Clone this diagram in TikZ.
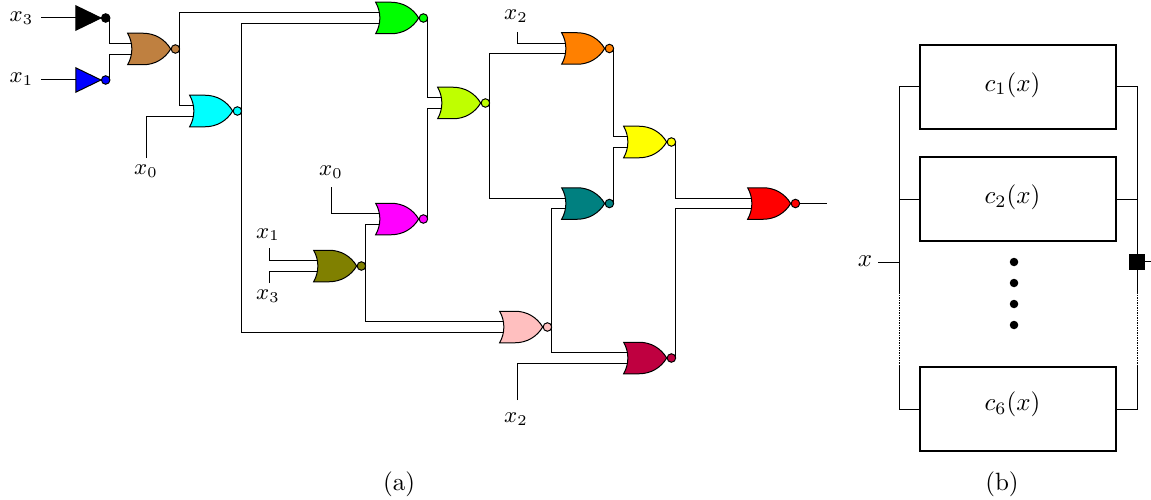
\documentclass[tikz,border=0pt]{standalone}
\usetikzlibrary{shapes.gates.logic.US}
\definecolor{cbrown}{rgb}{.75,.5,.25}
\definecolor{clime}{rgb}{.75,1,0}
\definecolor{cpink}{rgb}{1,.75,.75}
\definecolor{cpurple}{rgb}{.75,0,.25}
\definecolor{corange}{rgb}{1,.5,0}
\definecolor{cteal}{rgb}{0,.5,.5}
\definecolor{colive}{rgb}{.5,.5,0}
\definecolor{ccyan}{rgb}{0,1,1}
\definecolor{cmag}{rgb}{1,0,1}
\definecolor{cyel}{rgb}{1,1,0}
\definecolor{cgreen}{rgb}{0,1,0}
\definecolor{cred}{rgb}{1,0,0}
\definecolor{cblue}{rgb}{0,0,1}
\tikzset{
  norg/.style={nor gate US,draw,fill=#1,logic gate inputs=nn,inner sep=0pt,minimum height=9.6pt,minimum width=15.2pt,logic gate input sep=4.2pt,logic gate inverted radius=1.7pt,outer sep=0pt},
  notg/.style={not gate US,draw,fill=#1,inner sep=0pt,minimum height=7.6pt,minimum width=11pt,logic gate inverted radius=1.7pt,outer sep=0pt},
  wire/.style={line width=0.4pt},
  lbl/.style={inner sep=0pt},
  slbl/.style={inner sep=0pt,font=\small},
  cbox/.style={draw,line width=0.8pt,minimum width=78.4pt,minimum height=33.4pt,inner sep=0pt},
  blob/.style={circle,fill=black,inner sep=0pt,minimum size=3.4pt}
}
\begin{document}
\begin{tikzpicture}[x=0.4pt,y=-0.4pt]
\useasboundingbox (0,0) rectangle (1151,499);
% gates
\node[notg=black] (nblack) at (84.5,18) {};
\node[notg=cblue] (nblue) at (84.5,80) {};
\node[norg=cbrown] (gbrown) at (146,49) {};
\node[norg=ccyan] (gcyan) at (208,111) {};
\node[norg=cgreen] (ggreen) at (394,18) {};
\node[norg=clime] (glime) at (456,103) {};
\node[norg=cmag] (gmag) at (394,219) {};
\node[norg=colive] (golive) at (332,266) {};
\node[norg=cpink] (gpink) at (518,327) {};
\node[norg=corange] (gorange) at (580,48.5) {};
\node[norg=cteal] (gteal) at (580,203.5) {};
\node[norg=cyel] (gyellow) at (642,142) {};
\node[norg=cpurple] (gpurple) at (642,358) {};
\node[norg=cred] (gred) at (766,203.5) {};
% labels
\node[slbl] (lx3) at (21.5,18) {$x_3$};
\node[slbl] (lx1) at (21.5,79) {$x_1$};
\node[slbl] (lx0a) at (146,171) {$x_0$};
\node[slbl] (lx0b) at (331,172) {$x_0$};
\node[slbl] (lx1b) at (268,234.5) {$x_1$};
\node[slbl] (lx3b) at (268,296) {$x_3$};
\node[slbl] (lx2a) at (516,16) {$x_2$};
\node[slbl] (lx2b) at (516,419) {$x_2$};
\node[lbl] (la) at (399,484) {(a)};
\node[lbl] (lb) at (1002,484) {(b)};
% free ends
\coordinate (e3) at (41,18);
\coordinate (e1) at (41,80);
\coordinate (e0a) at (146,158);
\coordinate (e0b) at (331,187);
\coordinate (e1b) at (269,248);
\coordinate (e3b) at (269,283);
\coordinate (e2a) at (517,32);
\coordinate (e2b) at (517,400);
\coordinate (eout) at (827,203.5);
% wires
\draw[wire] (e3) -- (nblack.input);
\draw[wire] (e1) -- (nblue.input);
\draw[wire] (nblack.output) |- (gbrown.input 1);
\draw[wire] (nblue.output) |- (gbrown.input 2);
\draw[wire] (gbrown.output) |- (ggreen.input 1);
\draw[wire] (gbrown.output) |- (gcyan.input 1);
\draw[wire] (e0a) |- (gcyan.input 2);
\draw[wire] (gcyan.output) |- (ggreen.input 2);
\draw[wire] (gcyan.output) |- (gpink.input 2);
\draw[wire] (ggreen.output) |- (glime.input 1);
\draw[wire] (gmag.output) |- (glime.input 2);
\draw[wire] (glime.output) |- (gorange.input 2);
\draw[wire] (glime.output) |- (gteal.input 1);
\draw[wire] (e0b) |- (gmag.input 1);
\draw[wire] (golive.output) |- (gmag.input 2);
\draw[wire] (golive.output) |- (gpink.input 1);
\draw[wire] (e1b) |- (golive.input 1);
\draw[wire] (e3b) |- (golive.input 2);
\draw[wire] (gpink.output) |- (gteal.input 2);
\draw[wire] (gpink.output) |- (gpurple.input 1);
\draw[wire] (e2b) |- (gpurple.input 2);
\draw[wire] (e2a) |- (gorange.input 1);
\draw[wire] (gorange.output) |- (gyellow.input 1);
\draw[wire] (gteal.output) |- (gyellow.input 2);
\draw[wire] (gyellow.output) |- (gred.input 1);
\draw[wire] (gpurple.output) |- (gred.input 2);
\draw[wire] (gred.output) -- (eout);
% panel b
\node[cbox] (c1) at (1018,87) {};
\node[cbox] (c2) at (1018,199) {};
\node[cbox] (c6) at (1018,409) {};
\node[lbl] (tc1) at (1012.5,85) {$c_1(x)$};
\node[lbl] (tc2) at (1012.5,197) {$c_2(x)$};
\node[lbl] (tc6) at (1012.5,404) {$c_6(x)$};
\node[blob] (d1) at (1014,262) {};
\node[blob] (d2) at (1014,283) {};
\node[blob] (d3) at (1014,304) {};
\node[blob] (d4) at (1014,325) {};
\node[lbl] (lx) at (865,261) {$x$};
\node[draw,fill=black,inner sep=0pt,minimum size=6pt] (sq) at (1137,261.5) {};
\coordinate (xs) at (878,262);
\coordinate (xj) at (899,262);
\coordinate (ltop) at (899,87);
\coordinate (ld1) at (899,292);
\coordinate (ld2) at (899,365);
\coordinate (lbot) at (899,409);
\coordinate (rtop) at (1137,87);
\coordinate (rd1) at (1137,292);
\coordinate (rd2) at (1137,365);
\coordinate (rbot) at (1137,409);
\coordinate (oe) at (1151,261.5);
\draw[wire] (xs) -- (xj);
\draw[wire] (c1.west) -- (ltop) -- (ld1);
\draw[wire,dash pattern=on .6pt off .4pt] (ld1) -- (ld2);
\draw[wire] (ld2) -- (lbot) -- (c6.west);
\draw[wire] (c2.west) -- (c2.west -| ltop);
\draw[wire] (c1.east) -- (rtop) -- (rd1);
\draw[wire,dash pattern=on .6pt off .4pt] (rd1) -- (rd2);
\draw[wire] (rd2) -- (rbot) -- (c6.east);
\draw[wire] (c2.east) -- (c2.east -| rtop);
\draw[wire] (sq) -- (oe);
\end{tikzpicture}
\end{document}
